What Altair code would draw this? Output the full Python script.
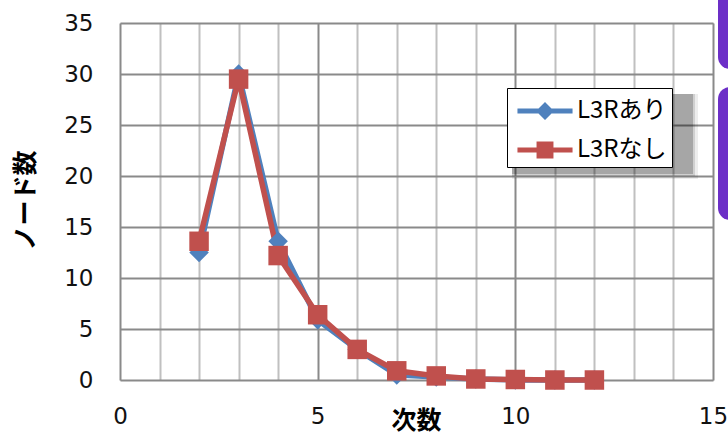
import altair as alt
import pandas as pd

# degree (次数) on the x axis
degree = [2, 3, 4, 5, 6, 7, 8, 9, 10, 11, 12]
# number of nodes per degree, for each configuration
with_l3r = [12.5, 30.0, 13.6, 5.9, 3.0, 0.5, 0.3, 0.1, 0.0, 0.0, 0.0]
without_l3r = [13.6, 29.5, 12.2, 6.4, 3.0, 0.9, 0.4, 0.1, 0.05, 0.0, 0.0]

series_names = ["L3Rあり", "L3Rなし"]
series_colors = ["#4f81bd", "#c0504d"]

x_ticks = list(range(0, 16))
y_ticks = [0, 5, 10, 15, 20, 25, 30, 35]

df = pd.concat([
    pd.DataFrame({"次数": degree, "ノード数": with_l3r, "series": series_names[0]}),
    pd.DataFrame({"次数": degree, "ノード数": without_l3r, "series": series_names[1]}),
], ignore_index=True)

# one row, for single decorative shapes
single = pd.DataFrame({"item": [0]})

label_font = "DejaVu Sans"
cjk_font = "Noto Sans CJK JP"

x_enc = alt.X(
    "次数:Q",
    scale=alt.Scale(domain=[0, 15], nice=False, zero=False),
    axis=alt.Axis(
        values=x_ticks,
        labelExpr="datum.value % 5 === 0 ? datum.label : ''",
        labelOverlap=False,
        grid=True,
        gridColor=alt.condition("datum.value % 5 === 0", alt.value("#8a8a8a"), alt.value("#c0c0c0")),
        gridWidth=2,
        ticks=False,
        domain=False,
        labelFont=label_font,
        labelFontSize=23,
        labelColor="#111111",
        labelPadding=25,
        labelFlush=False,
        title="次数",
        titleFont=cjk_font,
        titleFontSize=25,
        titleFontWeight="bold",
        titleColor="#000000",
        titleX=296,
        titleY=40,
        titleAlign="center",
        titleBaseline="middle",
    ),
)

y_enc = alt.Y(
    "ノード数:Q",
    scale=alt.Scale(domain=[0, 35], nice=False),
    axis=alt.Axis(
        values=y_ticks,
        grid=True,
        gridColor="#8a8a8a",
        gridWidth=2,
        ticks=False,
        domain=False,
        labelFont=label_font,
        labelFontSize=23,
        labelColor="#111111",
        labelPadding=27,
        labelBaseline="middle",
        labelFlush=False,
        title="ノード数",
        titleFont=cjk_font,
        titleFontSize=25,
        titleFontWeight="bold",
        titleColor="#000000",
        titleAngle=-90,
        titleX=-95,
        titleY=177,
        titleAlign="center",
        titleBaseline="middle",
    ),
)

color_scale = alt.Scale(domain=series_names, range=series_colors)

# legend symbols: a line segment with the series marker on it
legend_diamond = "M-1.53,-0.14L1.53,-0.14L1.53,0.14L-1.53,0.14Z M0,-0.5L0.5,0L0,0.5L-0.5,0Z"
legend_square = "M-1.53,-0.14L1.53,-0.14L1.53,0.14L-1.53,0.14Z M-0.47,-0.47L0.47,-0.47L0.47,0.47L-0.47,0.47Z"

legend_box = alt.Legend(
    title=None,
    orient="none",
    legendX=387,
    legendY=65,
    fillColor="#ffffff",
    strokeColor="#000000",
    padding=5,
    rowPadding=9,
    symbolSize=1296,
    symbolOffset=15,
    symbolOpacity=1,
    symbolStrokeWidth=0,
    labelFont=cjk_font,
    labelFontSize=24,
    labelColor="#000000",
    labelOffset=14,
    labelExpr="datum.label + '\u00a0\u00a0\u00a0\u00a0'",
)

base = alt.Chart(df).encode(x=x_enc, y=y_enc)

lines = base.mark_line(strokeWidth=5.5).encode(
    color=alt.Color("series:N", scale=color_scale, legend=None),
    order=alt.Order("次数:Q"),
)

markers = base.mark_point(filled=True, opacity=1, size=380).encode(
    color=alt.Color("series:N", scale=color_scale, legend=None),
    shape=alt.Shape("series:N", scale=alt.Scale(domain=series_names, range=["diamond", "square"]), legend=None),
)

legend_layer = base.mark_point(filled=True, size=1296).encode(
    opacity=alt.value(0),
    color=alt.Color("series:N", scale=color_scale, legend=legend_box),
    shape=alt.Shape(
        "series:N",
        scale=alt.Scale(domain=series_names, range=[legend_diamond, legend_square]),
        legend=legend_box,
    ),
)

# soft drop shadow behind the legend box
shadow_outer = alt.Chart(single).mark_rect(color="#000000", opacity=0.07).encode(
    x=alt.value(392), x2=alt.value(578), y=alt.value(71), y2=alt.value(156)
)
shadow_mid = alt.Chart(single).mark_rect(color="#000000", opacity=0.12).encode(
    x=alt.value(392), x2=alt.value(575), y=alt.value(71), y2=alt.value(153)
)
shadow_inner = alt.Chart(single).mark_rect(color="#000000", opacity=0.2).encode(
    x=alt.value(392), x2=alt.value(573), y=alt.value(71), y2=alt.value(151)
)

# purple slide panels at the right edge
panel_top = alt.Chart(single).mark_rect(color="#6c2fc7", cornerRadius=12).encode(
    x=alt.value(598), x2=alt.value(650), y=alt.value(-40), y2=alt.value(46)
)
panel_mid = alt.Chart(single).mark_rect(color="#6c2fc7", cornerRadius=12).encode(
    x=alt.value(598), x2=alt.value(650), y=alt.value(64), y2=alt.value(197)
)

chart = alt.layer(
    shadow_outer, shadow_mid, shadow_inner, lines, markers, legend_layer, panel_top, panel_mid
).resolve_scale(
    shape="independent",
    color="independent",
).properties(
    width=593,
    height=357,
    autosize="none",
    padding={"left": 120, "top": 23, "right": 15, "bottom": 60},
).configure_view(
    stroke="#8a8a8a",
    strokeWidth=2,
).configure_legend(
    strokeWidth=2,
).configure(background="#ffffff")

chart.save("out.html", embed_options={"renderer": "svg", "actions": False})
